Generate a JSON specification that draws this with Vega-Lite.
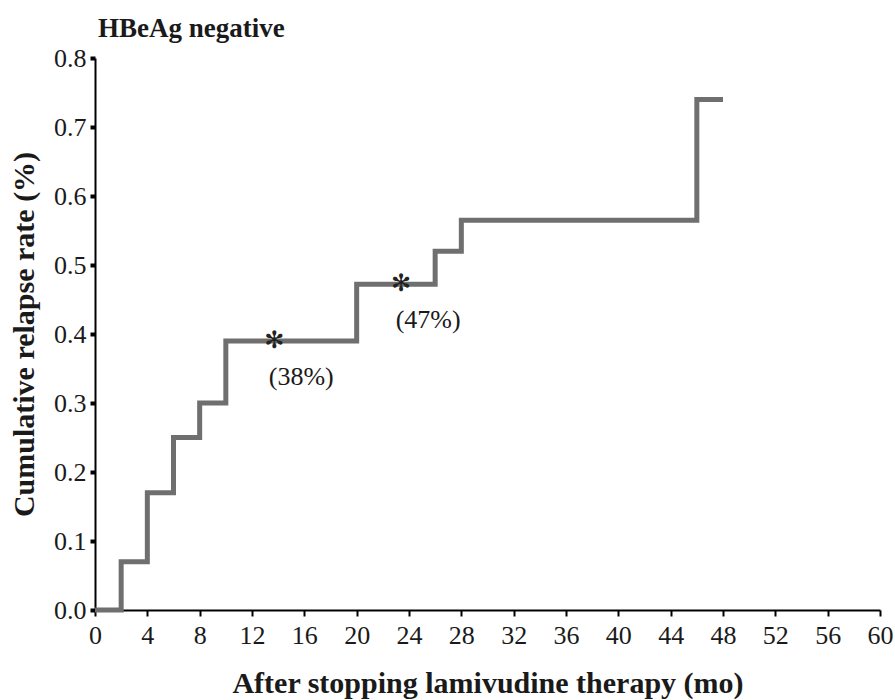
{
  "$schema": "https://vega.github.io/schema/vega-lite/v6.json",
  "autosize": "none",
  "padding": {"left": 95, "top": 58, "right": 15, "bottom": 90},
  "width": 785,
  "height": 552,
  "background": "white",
  "title": {"text": "HBeAg negative", "anchor": "start", "frame": "group", "font": "Liberation Serif", "fontSize": 27, "fontWeight": "bold", "color": "#1a1a1a", "offset": 2, "dx": 3},
  "config": {"view": {"stroke": null}, "font": "Liberation Serif"},
  "datasets": {
    "steps": [
      {"month": 0, "rate": 0.0},
      {"month": 2, "rate": 0.07},
      {"month": 4, "rate": 0.17},
      {"month": 6, "rate": 0.25},
      {"month": 8, "rate": 0.30},
      {"month": 10, "rate": 0.39},
      {"month": 20, "rate": 0.472},
      {"month": 26, "rate": 0.52},
      {"month": 28, "rate": 0.565},
      {"month": 46, "rate": 0.74},
      {"month": 48, "rate": 0.74}
    ],
    "marks": [
      {"month": 13.7, "rate": 0.39, "label": "(38%)"},
      {"month": 23.4, "rate": 0.472, "label": "(47%)"}
    ]
  },
  "layer": [
    {
      "data": {"name": "steps"},
      "mark": {"type": "line", "interpolate": "step-after", "color": "#6f6f6f", "strokeWidth": 5, "strokeCap": "butt", "strokeJoin": "miter"},
      "encoding": {
        "x": {"field": "month", "type": "quantitative", "scale": {"domain": [0, 60], "nice": false},
          "axis": {"values": [0,2,4,6,8,10,12,14,16,18,20,22,24,26,28,30,32,34,36,38,40,42,44,46,48,50,52,54,56,58,60],
            "labelExpr": "datum.value % 4 == 0 ? datum.label : ''",
            "title": "After stopping lamivudine therapy (mo)", "titleFont": "Liberation Serif", "titleFontSize": 30, "titleFontWeight": "bold", "titleColor": "#1a1a1a", "titlePadding": 20,
            "labelFont": "Liberation Serif", "labelFontSize": 26, "labelColor": "#1a1a1a", "labelPadding": 6, "labelFlush": false, "labelOverlap": false,
            "domainColor": "black", "domainWidth": 2, "tickColor": "black", "tickWidth": 2, "tickSize": 6, "grid": false}},
        "y": {"field": "rate", "type": "quantitative", "scale": {"domain": [0, 0.8], "nice": false},
          "axis": {"values": [0, 0.1, 0.2, 0.3, 0.4, 0.5, 0.6, 0.7, 0.8], "format": ".1f",
            "title": "Cumulative relapse rate (%)", "titleFont": "Liberation Serif", "titleFontSize": 30, "titleFontWeight": "bold", "titleColor": "#1a1a1a", "titlePadding": 14,
            "labelFont": "Liberation Serif", "labelFontSize": 26, "labelColor": "#1a1a1a", "labelPadding": 4, "labelOverlap": false,
            "domainColor": "black", "domainWidth": 2, "tickColor": "black", "tickWidth": 4, "tickSize": 5, "grid": false}}
      }
    },
    {
      "data": {"name": "marks"},
      "mark": {"type": "text", "text": "✻", "font": "DejaVu Sans", "fontSize": 24, "color": "#222222", "baseline": "middle", "align": "center"},
      "encoding": {
        "x": {"field": "month", "type": "quantitative"},
        "y": {"field": "rate", "type": "quantitative"}
      }
    },
    {
      "data": {"name": "marks"},
      "mark": {"type": "text", "font": "Liberation Serif", "fontSize": 26, "color": "#1a1a1a", "baseline": "middle", "align": "center", "dy": 36, "dx": 27},
      "encoding": {
        "x": {"field": "month", "type": "quantitative"},
        "y": {"field": "rate", "type": "quantitative"},
        "text": {"field": "label"}
      }
    }
  ]
}
